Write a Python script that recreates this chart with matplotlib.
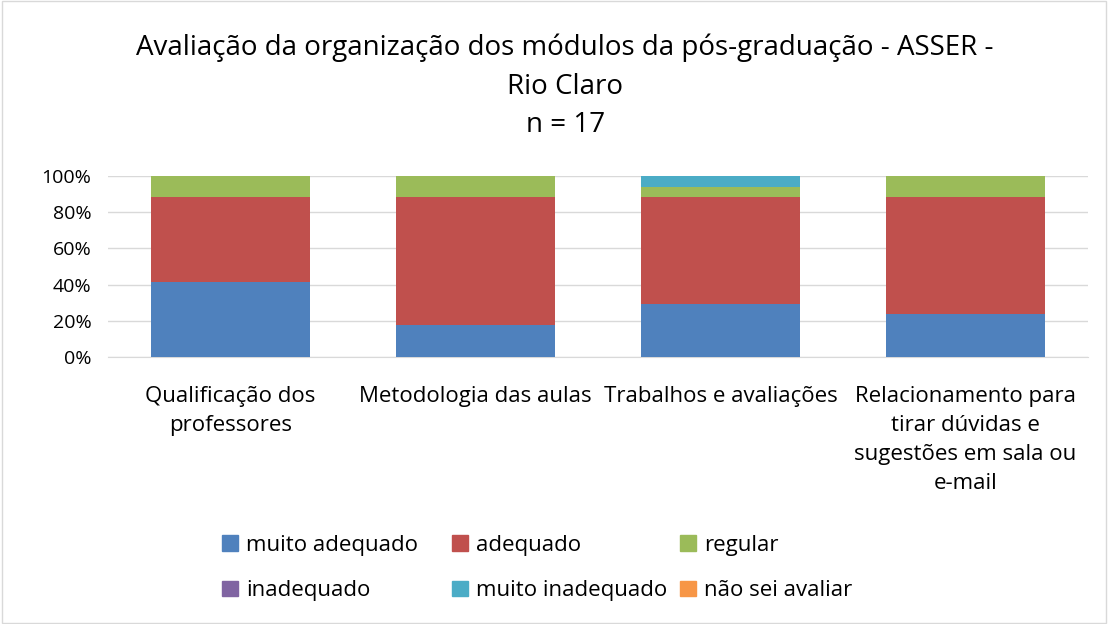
import matplotlib
matplotlib.use("Agg")
import matplotlib.pyplot as plt
import numpy as np
from matplotlib.patches import Rectangle, Patch

plt.rcParams['font.family'] = ['Open Sans', 'DejaVu Sans']

categorias = ["Qualificação dos\nprofessores", "Metodologia das aulas",
              "Trabalhos e avaliações",
              "Relacionamento para\ntirar dúvidas e\nsugestões em sala ou\ne-mail"]
n = 17
# respostas (contagens) por categoria
muito_adequado = [7, 3, 5, 4]
adequado = [8, 12, 10, 11]
regular = [2, 2, 1, 2]
inadequado = [0, 0, 0, 0]
muito_inadequado = [0, 0, 1, 0]
nao_sei = [0, 0, 0, 0]

series = [("muito adequado", muito_adequado, "#4F81BD"),
          ("adequado", adequado, "#C0504D"),
          ("regular", regular, "#9BBB59"),
          ("inadequado", inadequado, "#8064A2"),
          ("muito inadequado", muito_inadequado, "#4BACC6"),
          ("não sei avaliar", nao_sei, "#F79646")]

fig = plt.figure(figsize=(11.08, 6.24), dpi=100)
ax = fig.add_axes([108/1108, 1 - 357/624, 980/1108, 181/624])

x = np.arange(len(categorias))
base = np.zeros(len(categorias))
for nome, vals, cor in series:
    v = np.array(vals) / n * 100
    ax.bar(x, v, bottom=base, width=0.645, color=cor, label=nome, zorder=3)
    base += v

ax.set_xlim(-0.5, len(categorias) - 0.5)
ax.set_ylim(0, 100)
ax.set_yticks(range(0, 101, 20))
ax.set_yticklabels([f"{t}%" for t in range(0, 101, 20)], fontsize=14)
ax.set_xticks(x)
ax.set_xticklabels(categorias, fontsize=16, linespacing=1.5, va='top')
ax.tick_params(axis='y', length=0, pad=12)
ax.tick_params(axis='x', length=0, pad=21)
ax.grid(axis='y', color='#D9D9D9', linewidth=1, zorder=0)
for s in ax.spines.values():
    s.set_visible(False)
ax.spines['bottom'].set_visible(True)
ax.spines['bottom'].set_color('#D9D9D9')

fig.text(0.51, 0.923, "Avaliação da organização dos módulos da pós-graduação - ASSER -",
         ha='center', va='center', fontsize=20)
fig.text(0.51, 0.861, "Rio Claro", ha='center', va='center', fontsize=20)
fig.text(0.51, 0.799, "n = 17", ha='center', va='center', fontsize=20)

# legenda em três colunas de largura fixa, preenchida por linhas
col_x = [222/1108, 452/1108, 680/1108]
for c in range(3):
    idx = [c, c + 3]
    hs = [Patch(color=series[i][2]) for i in idx]
    ls = [series[i][0] for i in idx]
    fig.legend(hs, ls, loc='upper left', bbox_to_anchor=(col_x[c], 1 - 535/624),
               frameon=False, fontsize=16, handlelength=0.7, handleheight=0.7,
               handletextpad=0.4, labelspacing=1.1, borderpad=0, borderaxespad=0)

fig.patches.append(Rectangle((0.002, 0.002), 0.996, 0.996, transform=fig.transFigure,
                             fill=False, edgecolor='#D9D9D9', linewidth=1))

fig.savefig("out.png", dpi=100)
